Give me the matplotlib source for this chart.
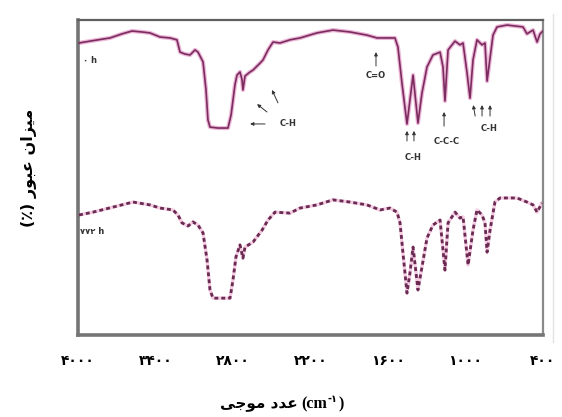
import matplotlib
matplotlib.use("Agg")
import matplotlib.pyplot as plt
from matplotlib.lines import Line2D

# ---------------- data ----------------
wn_top = [3992, 3907, 3752, 3659, 3582, 3505, 3443, 3365, 3288, 3234, 3210, 3172,
          3133, 3094, 3071, 3032, 3009, 2994, 2978, 2916, 2839, 2815, 2800, 2785,
          2769, 2746, 2730, 2723, 2707, 2668, 2645, 2591, 2568, 2529, 2490, 2436,
          2359, 2281, 2150, 2026, 1894, 1763, 1685, 1608, 1546, 1523, 1492, 1453,
          1430, 1406, 1368, 1337, 1298, 1252, 1197, 1174, 1159, 1135, 1081, 1043,
          1019, 988, 965, 942, 911, 872, 849, 833, 810, 787, 756, 679, 555, 524,
          501, 477, 446, 423, 400]
t_top = [92.7, 93.3, 94.3, 95.6, 96.5, 96.2, 95.9, 94.6, 94.3, 93.7, 89.8, 89.2,
         88.9, 90.5, 89.8, 86.7, 77.8, 68.3, 66.0, 65.7, 65.7, 69.8, 74.6, 79.4,
         82.5, 83.5, 81.0, 77.8, 82.2, 83.5, 84.1, 86.3, 87.3, 90.5, 93.0, 92.7,
         93.7, 94.3, 95.9, 96.8, 96.2, 95.2, 94.3, 94.3, 94.3, 91.4, 80.0, 67.0,
         74.6, 82.5, 67.3, 76.8, 85.1, 88.9, 89.8, 85.1, 74.3, 90.5, 93.3, 92.1,
         92.7, 83.2, 75.2, 87.3, 93.7, 92.1, 92.7, 80.6, 87.9, 95.2, 97.8, 98.4,
         97.8, 95.6, 96.2, 96.8, 93.0, 95.6, 96.5]

wn_bot = [3992, 3884, 3729, 3574, 3443, 3365, 3265, 3226, 3195, 3148, 3110, 3071,
          3032, 3001, 2978, 2955, 2823, 2800, 2777, 2746, 2723, 2707, 2645, 2575,
          2529, 2475, 2359, 2281, 2150, 2026, 1894, 1763, 1662, 1585, 1530, 1507,
          1484, 1453, 1430, 1406, 1368, 1337, 1298, 1252, 1197, 1159, 1135, 1081,
          1043, 1019, 980, 942, 911, 872, 849, 833, 810, 772, 733, 601, 524, 477,
          446, 408]
t_bot = [38.1, 39.0, 40.6, 42.2, 41.3, 40.3, 39.7, 38.1, 35.6, 34.6, 35.9, 34.9,
         32.4, 23.8, 14.3, 11.7, 11.7, 17.5, 24.8, 28.6, 24.4, 27.9, 29.5, 33.3,
         36.5, 39.0, 38.7, 40.3, 41.3, 42.9, 42.2, 41.3, 39.7, 40.3, 39.0, 35.6,
         26.0, 13.3, 19.7, 27.9, 14.3, 21.6, 30.8, 34.9, 36.5, 20.6, 35.6, 39.0,
         37.1, 37.5, 22.2, 33.3, 39.7, 38.1, 35.6, 26.3, 33.3, 42.2, 43.5, 43.5,
         42.2, 41.3, 39.0, 41.9]

tick_values = [4000, 3400, 2800, 2200, 1600, 1000, 400]
tick_labels = ["۴۰۰۰", "۳۴۰۰", "۲۸۰۰", "۲۲۰۰", "۱۶۰۰", "۱۰۰۰", "۴۰۰"]
series_labels = ["۰ h", "۷۷۲ h"]
xlabel_fa = "عدد موجی"
xlabel_unit = "(cm"
xlabel_sup = "-۱"
ylabel_fa = "میزان عبور"

# ---------------- simple Arabic/Persian shaping ----------------
FORMS = {
    'ا': ('\uFE8D', '\uFE8E', None, None),
    'ب': ('\uFE8F', '\uFE90', '\uFE91', '\uFE92'),
    'ج': ('\uFE9D', '\uFE9E', '\uFE9F', '\uFEA0'),
    'د': ('\uFEA9', '\uFEAA', None, None),
    'ز': ('\uFEAF', '\uFEB0', None, None),
    'ع': ('\uFEC9', '\uFECA', '\uFECB', '\uFECC'),
    'م': ('\uFEE1', '\uFEE2', '\uFEE3', '\uFEE4'),
    'ن': ('\uFEE5', '\uFEE6', '\uFEE7', '\uFEE8'),
    'و': ('\uFEED', '\uFEEE', None, None),
    'ی': ('\uFBFC', '\uFBFD', '\uFBFE', '\uFBFF'),
}


def shape(text):
    out = []
    for i, ch in enumerate(text):
        if ch not in FORMS:
            out.append(ch)
            continue
        prev = text[i - 1] if i > 0 else None
        nxt = text[i + 1] if i + 1 < len(text) else None
        pj = prev in FORMS and FORMS[prev][2] is not None
        nj = nxt in FORMS and FORMS[ch][2] is not None
        f = FORMS[ch]
        if pj and nj:
            out.append(f[3])
        elif pj:
            out.append(f[1])
        elif nj:
            out.append(f[2])
        else:
            out.append(f[0])
    return "".join(out)[::-1]


# ---------------- figure ----------------
W, H = 562, 417
fig = plt.figure(figsize=(W / 100, H / 100), dpi=100)
ax = fig.add_axes([78 / W, 1 - 335 / H, (543 - 78) / W, (335 - 20) / H])

ax.plot(wn_top, t_top, color="#ecb4d6", lw=3.0, solid_joinstyle="round", zorder=2)
ax.plot(wn_top, t_top, color="#7a2c5e", lw=1.2, solid_joinstyle="round", zorder=3)

ax.plot(wn_bot, t_bot, color="#f4cce2", lw=2.4, zorder=2)
ax.plot(wn_bot, t_bot, color="#6a2a52", lw=2.0, linestyle=(0, (1.4, 1.1)),
        dash_capstyle="butt", zorder=3)

ax.set_xlim(4000, 400)
ax.set_ylim(0, 100)
ax.set_yticks([])
ax.set_xticks(tick_values)
ax.set_xticklabels(tick_labels, family="DejaVu Sans", fontweight="bold", fontsize=10)
ax.tick_params(axis="x", length=0, pad=14, colors="black")

for side in ("left", "bottom"):
    ax.spines[side].set_color("#757575")
    ax.spines[side].set_linewidth(2.6)
ax.spines["top"].set_color("#606060")
ax.spines["top"].set_linewidth(1.6)
ax.spines["right"].set_color("#8a8a8a")
ax.spines["right"].set_linewidth(1.6)

# faint frame line at the right edge of the picture
fig.add_artist(Line2D([553 / W, 553 / W], [1 - 342 / H, 1 - 14 / H],
                      transform=fig.transFigure, color="#e2e2e2", lw=1.0))

# series labels
tkw = dict(fontsize=6, color="#333333", family="DejaVu Sans", fontweight="bold", va="center")
ax.text(3961, 87.3, series_labels[0], ha="left", **tkw)
ax.text(3985, 32.7, series_labels[1], ha="left", **tkw)

# band annotations
akw = dict(arrowstyle="-|>", mutation_scale=5, lw=0.7, color="#333333", shrinkA=0, shrinkB=0)
ann = dict(fontsize=6, color="#333333", family="DejaVu Sans", fontweight="bold",
           ha="center", va="center")


def arrow(x0, y0, x1, y1):
    ax.annotate("", xy=(x1, y1), xytext=(x0, y0), arrowprops=akw, zorder=4)


# C-H near large band
ax.text(2374, 67.3, "C-H", **ann)
arrow(2552, 67.0, 2668, 67.0)
arrow(2537, 70.8, 2614, 73.3)
arrow(2452, 73.7, 2498, 77.8)
# C=O
ax.text(1693, 82.5, "C=O", **ann)
arrow(1693, 85.4, 1693, 89.8)
# C-H pair
ax.text(1406, 56.5, "C-H", **ann)
arrow(1453, 61.6, 1453, 64.8)
arrow(1399, 61.6, 1399, 64.8)
# C-C-C
ax.text(1143, 61.3, "C-C-C", **ann)
arrow(1166, 66.3, 1166, 70.8)
# C-H triple
ax.text(818, 65.7, "C-H", **ann)
arrow(925, 69.5, 940, 73.0)
arrow(872, 69.5, 872, 73.0)
arrow(810, 69.5, 810, 73.0)

# y label (rotated)
fig.text(29 / W, 1 - 168 / H, "(٪) " + shape(ylabel_fa), rotation=90,
         ha="center", va="center", fontsize=11.5, fontweight="bold",
         family="DejaVu Sans")

# x label: Arabic part + (cm^-1)
fig.canvas.draw()
r = fig.canvas.get_renderer()
ybase = 1 - 408 / H
t1 = fig.text(298 / W, ybase, shape(xlabel_fa), ha="right", va="baseline",
              fontsize=11, fontweight="bold", family="DejaVu Sans")
t2 = fig.text(301 / W, ybase, xlabel_unit, ha="left", va="baseline",
              fontsize=11.5, fontweight="bold", family="Liberation Serif")
bb = t2.get_window_extent(r)
t3 = fig.text((bb.x1 + 1) / W, ybase + 6 / H, xlabel_sup, ha="left", va="baseline",
              fontsize=7, fontweight="bold", family="DejaVu Sans")
bb3 = t3.get_window_extent(r)
fig.text((bb3.x1 + 1) / W, ybase, ")", ha="left", va="baseline",
         fontsize=11.5, fontweight="bold", family="Liberation Serif")

fig.savefig("out.png", dpi=100)
